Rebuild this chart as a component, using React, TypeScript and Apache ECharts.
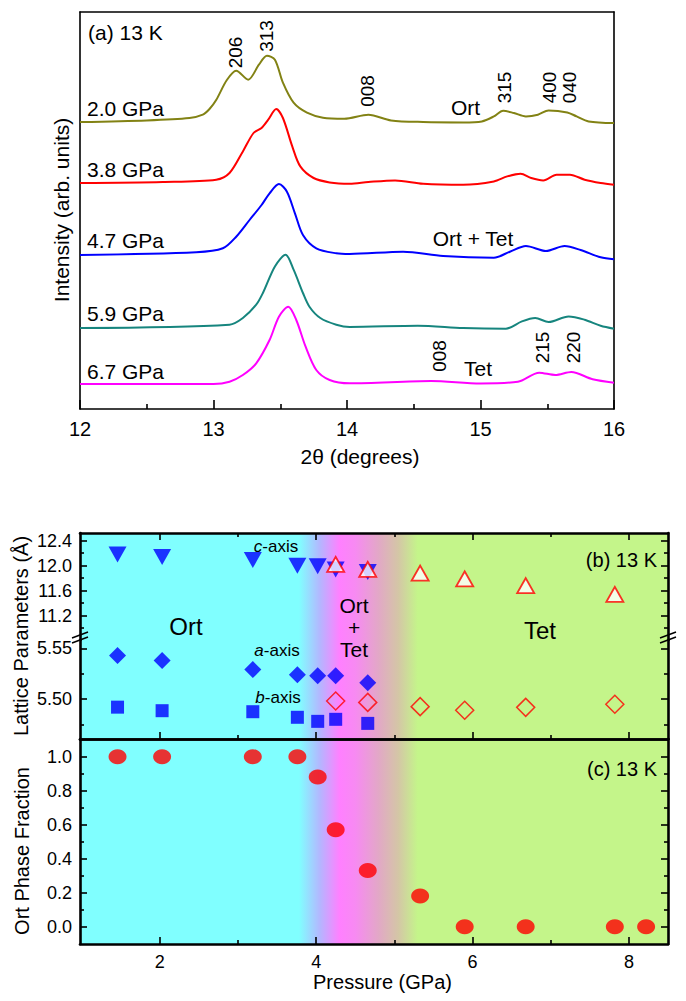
import React, { useEffect, useRef } from 'react';
import * as echarts from 'echarts';

const FONT = '"Liberation Sans", Arial, Helvetica, sans-serif';

// ---------- Panel (a): XRD patterns (2θ, intensity above each baseline, arb. units) ----------
const twoThetaTicks = [12, 13, 14, 15, 16];
const twoThetaMinorTicks = [12.5, 13.5, 14.5, 15.5];
const curveNames = ['2.0 GPa', '3.8 GPa', '4.7 GPa', '5.9 GPa', '6.7 GPa'];
const curveOffsets = [287, 226, 154, 81, 25];
const curveColors = ['#828214', '#FF0000', '#0000FF', '#16857E', '#FF00FF'];

const xrd20GPa: [number, number][] = [
  [12.0, 0], [12.5, 1.6], [12.82, 4], [12.92, 7.3], [12.97, 13], [13.02, 22], [13.1, 42], [13.17, 51.3],
  [13.26, 42.3], [13.34, 57.3], [13.4, 66.3], [13.46, 62.3], [13.52, 39.3], [13.6, 19.3], [13.7, 9.3],
  [13.82, 4.3], [13.98, 3.3], [14.16, 7.3], [14.33, 1.6], [14.57, 0], [14.87, -0.4], [15.01, 0.6],
  [15.1, 5.6], [15.17, 11.3], [15.25, 9], [15.34, 5.6], [15.43, 7.3], [15.51, 11.6], [15.65, 9.6],
  [15.72, 5.6], [15.81, 0.6], [16.0, -1],
];
const xrd38GPa: [number, number][] = [
  [12.0, 0], [12.62, 1], [13.02, 3.3], [13.12, 10], [13.22, 31.6], [13.3, 50], [13.36, 55], [13.41, 63.3],
  [13.47, 74], [13.52, 65], [13.59, 36.6], [13.65, 16.6], [13.75, 5], [13.87, 0.6], [14.02, -0.7],
  [14.16, 1], [14.36, 2.6], [14.57, -0.7], [14.87, -1.7], [15.1, 1.6], [15.2, 6.6], [15.3, 9.3],
  [15.38, 5], [15.47, 2.6], [15.57, 8.3], [15.67, 8.3], [15.78, 3.3], [15.9, 0], [16.0, -1.7],
];
const xrd47GPa: [number, number][] = [
  [12.0, 0], [12.87, 2.7], [13.07, 6.7], [13.17, 18.3], [13.27, 35], [13.36, 50], [13.42, 61.7],
  [13.49, 71], [13.55, 63.3], [13.61, 41.7], [13.67, 20], [13.77, 6.7], [13.92, 1.7], [14.02, 1],
  [14.42, 3.3], [14.72, -1], [15.1, -2.7], [15.22, 3.3], [15.34, 9], [15.49, 4], [15.63, 9],
  [15.75, 5], [15.9, -2.3], [16.0, -4.3],
];
const xrd59GPa: [number, number][] = [
  [12.0, 0], [13.12, 3.3], [13.22, 10], [13.32, 23.3], [13.37, 35], [13.46, 61.6], [13.54, 73.3],
  [13.6, 58.3], [13.67, 35], [13.72, 21], [13.8, 10], [13.92, 3.3], [14.02, 1], [14.53, 2.3],
  [14.87, 0], [15.19, -0.7], [15.31, 6.6], [15.41, 10], [15.51, 6], [15.66, 11.6], [15.78, 8.3],
  [15.9, 2.3], [16.0, -0.7],
];
const xrd67GPa: [number, number][] = [
  [12.0, 0], [13.0, 0], [13.12, 2.3], [13.22, 9], [13.32, 20.7], [13.42, 44], [13.49, 67.3],
  [13.56, 77.3], [13.62, 64], [13.69, 37.3], [13.77, 14], [13.87, 4], [14.02, 0.7], [14.63, 3],
  [15.0, 0.5], [15.28, 2.3], [15.44, 11.3], [15.56, 9], [15.68, 12], [15.84, 4.7], [16.0, 1.3],
];
const curves = [xrd20GPa, xrd38GPa, xrd47GPa, xrd59GPa, xrd67GPa];

// ---------- Panels (b), (c) ----------
const pressureMin = 0.98;
const pressureMax = 8.5;
const pressureTicks = [2, 4, 6, 8];
const pressureMinorTicks = [3, 5, 7];

const ortPressure = [1.46, 2.03, 3.19, 3.76, 4.02, 4.25, 4.66];
const tetPressure = [4.25, 4.66, 5.33, 5.9, 6.68, 7.82];
const fractionPressure = [1.46, 2.03, 3.19, 3.76, 4.02, 4.25, 4.66, 5.33, 5.9, 6.68, 7.82, 8.22];

const ortC = [12.18, 12.14, 12.09, 12.0, 11.99, 11.94, 11.9];
const tetC = [12.02, 11.94, 11.88, 11.79, 11.68, 11.54];
const ortA = [5.543, 5.538, 5.529, 5.524, 5.523, 5.523, 5.516];
const ortB = [5.492, 5.4885, 5.4875, 5.482, 5.478, 5.48, 5.476];
const tetA = [5.498, 5.4967, 5.4925, 5.489, 5.4918, 5.4948];
const ortFraction = [1, 1, 1, 1, 0.88, 0.57, 0.33, 0.18, 0, 0, 0, 0];

const cTicks = [11.2, 11.6, 12.0, 12.4];
const cMinorTicks = [11.0, 11.4, 11.8, 12.2];
const abTicks = [5.5, 5.55];
const abMinorTicks = [5.475, 5.525];
const fracTicks = [0, 0.2, 0.4, 0.6, 0.8, 1.0];
const fracMinorTicks = [0.1, 0.3, 0.5, 0.7, 0.9];

// phase background colour stops (pressure, colour)
const phaseStops: [number, string][] = [
  [0.98, '#80FFFF'], [3.78, '#80FFFF'], [4.05, '#B4B6FF'], [4.3, '#FF80FF'], [4.5, '#F78AF2'],
  [4.8, '#E2A8C6'], [5.05, '#D4C6A6'], [5.3, '#C4F58A'], [8.5, '#C4F58A'],
];

function gradient() {
  return new echarts.graphic.LinearGradient(
    0, 0, 1, 0,
    phaseStops.map(([p, c]) => ({ offset: (p - pressureMin) / (pressureMax - pressureMin), color: c }))
  );
}

function axis(gridIndex: number, position: string, min: number, max: number, c: any = {}) {
  return {
    type: 'value',
    gridIndex,
    position,
    min,
    max,
    splitLine: { show: false },
    axisPointer: { show: false },
    axisLine: { show: !!c.line, onZero: false, lineStyle: { color: '#000', width: c.lineWidth ?? 2.6 } },
    axisTick: c.ticks
      ? { show: true, inside: true, length: c.len, customValues: c.ticks, lineStyle: { color: '#000', width: c.tickWidth ?? 1.6 } }
      : { show: false },
    axisLabel: c.labels
      ? { show: true, customValues: c.labels, formatter: c.fmt, fontSize: c.size, margin: c.margin, color: '#000', fontFamily: FONT }
      : { show: false },
  };
}

function text(t: string, x: number, y: number, size: number, o: any = {}) {
  return {
    type: 'text',
    x,
    y,
    rotation: o.rot ?? 0,
    z: 100,
    silent: true,
    style: {
      text: t,
      fontSize: size,
      fontFamily: FONT,
      fill: '#000',
      align: o.align ?? 'center',
      verticalAlign: 'middle',
      rich: o.rich,
    },
  };
}

function buildOption() {
  const xAxis: any[] = [];
  const yAxis: any[] = [];
  const add = (list: any[], o: any) => { list.push(o); return list.length - 1; };
  const P0 = pressureMin, P1 = pressureMax;
  const C0 = 10.811, C1 = 12.523;
  const A0 = 5.4606, A1 = 5.5582;
  const F0 = -0.102, F1 = 1.104;

  // grid 0 (a)
  const xA = add(xAxis, axis(0, 'bottom', 12, 16, { line: true, lineWidth: 1.6, ticks: twoThetaTicks, len: 9, labels: twoThetaTicks, fmt: (v: number) => String(v), size: 20, margin: 10 }));
  add(xAxis, axis(0, 'bottom', 12, 16, { ticks: twoThetaMinorTicks, len: 5 }));
  add(xAxis, axis(0, 'top', 12, 16, { line: true, lineWidth: 1.6 }));
  const yA = add(yAxis, axis(0, 'left', 0, 397, { line: true, lineWidth: 1.6 }));
  add(yAxis, axis(0, 'right', 0, 397, { line: true, lineWidth: 1.6 }));

  // grid 1 (b, c-axis part)
  const xB1 = add(xAxis, axis(1, 'top', P0, P1, { line: true, ticks: pressureTicks, len: 7 }));
  add(xAxis, axis(1, 'top', P0, P1, { ticks: pressureMinorTicks, len: 4 }));
  const yB1 = add(yAxis, axis(1, 'left', C0, C1, { line: true, ticks: cTicks, len: 7, labels: cTicks, fmt: (v: number) => v.toFixed(1), size: 18, margin: 8 }));
  add(yAxis, axis(1, 'left', C0, C1, { ticks: cMinorTicks, len: 4 }));
  add(yAxis, axis(1, 'right', C0, C1, { line: true, ticks: cTicks, len: 7 }));
  add(yAxis, axis(1, 'right', C0, C1, { ticks: cMinorTicks, len: 4 }));

  // grid 2 (b, a/b-axis part)
  const xB2 = add(xAxis, axis(2, 'bottom', P0, P1, { line: true, ticks: pressureTicks, len: 7 }));
  add(xAxis, axis(2, 'bottom', P0, P1, { ticks: pressureMinorTicks, len: 4 }));
  const yB2 = add(yAxis, axis(2, 'left', A0, A1, { line: true, ticks: abTicks, len: 7, labels: abTicks, fmt: (v: number) => v.toFixed(2), size: 18, margin: 8 }));
  add(yAxis, axis(2, 'left', A0, A1, { ticks: abMinorTicks, len: 4 }));
  add(yAxis, axis(2, 'right', A0, A1, { line: true, ticks: abTicks, len: 7 }));
  add(yAxis, axis(2, 'right', A0, A1, { ticks: abMinorTicks, len: 4 }));

  // grid 3 (c)
  const xC = add(xAxis, axis(3, 'bottom', P0, P1, { line: true, ticks: pressureTicks, len: 7, labels: pressureTicks, fmt: (v: number) => String(v), size: 18, margin: 9 }));
  add(xAxis, axis(3, 'bottom', P0, P1, { ticks: pressureMinorTicks, len: 4 }));
  add(xAxis, axis(3, 'top', P0, P1, { line: true }));
  const yC = add(yAxis, axis(3, 'left', F0, F1, { line: true, ticks: fracTicks, len: 7, labels: fracTicks, fmt: (v: number) => v.toFixed(1), size: 18, margin: 8 }));
  add(yAxis, axis(3, 'left', F0, F1, { ticks: fracMinorTicks, len: 4 }));
  add(yAxis, axis(3, 'right', F0, F1, { line: true, ticks: fracTicks, len: 7 }));
  add(yAxis, axis(3, 'right', F0, F1, { ticks: fracMinorTicks, len: 4 }));

  const series: any[] = [];
  curves.forEach((c, i) => {
    series.push({
      type: 'line',
      name: curveNames[i],
      xAxisIndex: xA,
      yAxisIndex: yA,
      data: c.map(([t, v]) => [t, v + curveOffsets[i]]),
      showSymbol: false,
      symbol: 'none',
      smooth: 0.3,
      lineStyle: { color: curveColors[i], width: 2 },
      itemStyle: { color: curveColors[i] },
      silent: true,
      z: 3,
    });
  });

  series.push({
    type: 'scatter', name: 'Ort c', xAxisIndex: xB1, yAxisIndex: yB1,
    data: ortPressure.map((p, i) => [p, ortC[i]]),
    symbol: 'triangle', symbolRotate: 180, symbolSize: [18, 16],
    itemStyle: { color: '#0000FF' }, z: 3,
  });
  series.push({
    type: 'scatter', name: 'Tet c', xAxisIndex: xB1, yAxisIndex: yB1,
    data: tetPressure.map((p, i) => [p, tetC[i]]),
    symbol: 'triangle', symbolSize: [17, 15],
    itemStyle: { color: '#FFFFFF', borderColor: '#FF0000', borderWidth: 1.8 }, z: 4,
  });
  series.push({
    type: 'scatter', name: 'Ort a', xAxisIndex: xB2, yAxisIndex: yB2,
    data: ortPressure.map((p, i) => [p, ortA[i]]),
    symbol: 'diamond', symbolSize: [17, 17],
    itemStyle: { color: '#0000FF' }, z: 3,
  });
  series.push({
    type: 'scatter', name: 'Ort b', xAxisIndex: xB2, yAxisIndex: yB2,
    data: ortPressure.map((p, i) => [p, ortB[i]]),
    symbol: 'rect', symbolSize: 13,
    itemStyle: { color: '#0000FF' }, z: 3,
  });
  series.push({
    type: 'scatter', name: 'Tet a', xAxisIndex: xB2, yAxisIndex: yB2,
    data: tetPressure.map((p, i) => [p, tetA[i]]),
    symbol: 'diamond', symbolSize: [18, 18],
    itemStyle: { color: 'rgba(0,0,0,0)', borderColor: '#FF0000', borderWidth: 1.5 }, z: 4,
  });
  series.push({
    type: 'scatter', name: 'Ort fraction', xAxisIndex: xC, yAxisIndex: yC,
    data: fractionPressure.map((p, i) => [p, ortFraction[i]]),
    symbol: 'circle', symbolSize: [18, 15],
    itemStyle: { color: '#FF0000' }, z: 3,
  });

  const rot = Math.PI / 2;
  const italic = { i: { fontStyle: 'italic', fontSize: 17, fontFamily: FONT, fill: '#000' } };
  const graphic: any[] = [
    // panel (a) annotations
    text('(a) 13 K', 88, 32, 21, { align: 'left' }),
    text('206', 235, 52.5, 19, { rot }),
    text('313', 266.7, 36, 19, { rot }),
    text('008', 367, 91, 19, { rot }),
    text('Ort', 465.5, 107.5, 21),
    text('315', 504, 87.5, 19, { rot }),
    text('400', 549, 87.5, 19, { rot }),
    text('040', 569, 87.5, 19, { rot }),
    text('Ort + Tet', 473, 238, 21),
    text('008', 439, 356, 19, { rot }),
    text('Tet', 478, 368, 21),
    text('215', 542, 347.5, 19, { rot }),
    text('220', 573, 347.5, 19, { rot }),
    text(curveNames[0], 87, 108.3, 21, { align: 'left' }),
    text(curveNames[1], 87, 169, 21, { align: 'left' }),
    text(curveNames[2], 87, 240, 21, { align: 'left' }),
    text(curveNames[3], 87, 313.3, 21, { align: 'left' }),
    text(curveNames[4], 87, 371.7, 21, { align: 'left' }),
    text('Intensity (arb. units)', 61.7, 210, 21, { rot }),
    text('2θ (degrees)', 360, 456.7, 21),
    // panels (b), (c)
    text('Lattice Parameters (Å)', 20.5, 636, 20, { rot }),
    text('Ort Phase Fraction', 22, 851, 20, { rot }),
    text('Pressure (GPa)', 382.5, 981.7, 20),
    text('{i|c}-axis', 276, 546, 17, { rich: italic }),
    text('{i|a}-axis', 277, 650, 17, { rich: italic }),
    text('{i|b}-axis', 278, 697, 17, { rich: italic }),
    text('Ort', 186, 626, 24),
    text('Ort', 354, 605, 21),
    text('+', 354, 627, 21),
    text('Tet', 354, 649, 21),
    text('Tet', 540, 630, 24),
    text('(b) 13 K', 657, 560, 20, { align: 'right' }),
    text('(c) 13 K', 657, 769, 20, { align: 'right' }),
    // axis break marks
    { type: 'line', z: 100, shape: { x1: 72, y1: 638, x2: 88, y2: 632 }, style: { stroke: '#000', lineWidth: 1.5 } },
    { type: 'line', z: 100, shape: { x1: 72, y1: 643, x2: 88, y2: 637 }, style: { stroke: '#000', lineWidth: 1.5 } },
    { type: 'line', z: 100, shape: { x1: 660, y1: 638, x2: 676, y2: 632 }, style: { stroke: '#000', lineWidth: 1.5 } },
    { type: 'line', z: 100, shape: { x1: 660, y1: 643, x2: 676, y2: 637 }, style: { stroke: '#000', lineWidth: 1.5 } },
  ];

  return {
    animation: false,
    backgroundColor: '#FFFFFF',
    textStyle: { fontFamily: FONT },
    grid: [
      { left: 80, top: 12, width: 534, height: 397, show: false, outerBoundsMode: 'none' },
      { left: 80, top: 533, width: 588, height: 107, show: true, backgroundColor: gradient(), borderWidth: 0, outerBoundsMode: 'none' },
      { left: 80, top: 640, width: 588, height: 99, show: true, backgroundColor: gradient(), borderWidth: 0, outerBoundsMode: 'none' },
      { left: 80, top: 739, width: 588, height: 205, show: true, backgroundColor: gradient(), borderWidth: 0, outerBoundsMode: 'none' },
    ],
    xAxis,
    yAxis,
    series,
    graphic,
  };
}

export default function App() {
  const ref = useRef<HTMLDivElement>(null);
  useEffect(() => {
    document.body.style.margin = '0';
    const chart = echarts.init(ref.current!, null, { renderer: 'svg' });
    chart.setOption(buildOption() as any);
    return () => chart.dispose();
  }, []);
  return <div ref={ref} style={{ width: 686, height: 1001 }} />;
}
